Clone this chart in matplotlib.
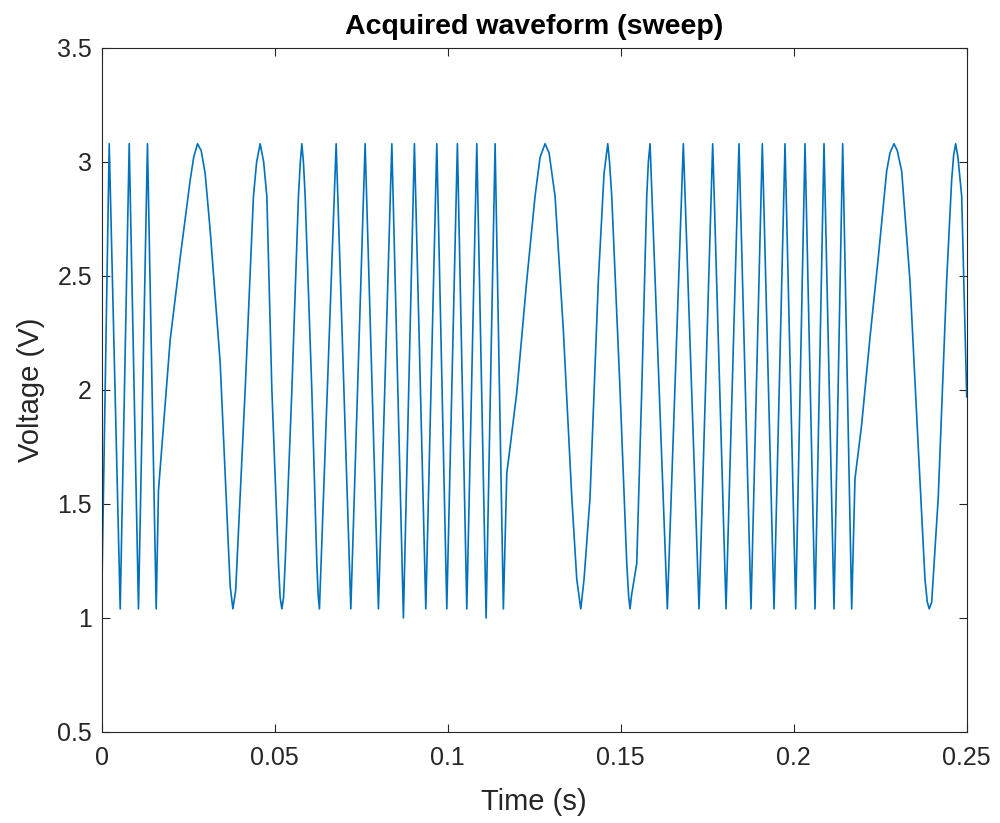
import matplotlib
matplotlib.use("Agg")
import matplotlib.pyplot as plt

# sweep waveform, points (time in s, voltage in V)
time_s = [
    0.0, 0.00217, 0.00535, 0.00795, 0.01063, 0.01323, 0.01575,
    # first slow cycle
    0.01641, 0.01979, 0.02268, 0.02557, 0.02658, 0.02768, 0.02875, 0.02990,
    0.03135, 0.03424, 0.03617, 0.03713, 0.03791, 0.03872,
    0.04146, 0.04386, 0.04478, 0.04580, 0.04681, 0.04773, 0.04918, 0.05108,
    0.05157, 0.05207, 0.05256, 0.05302, 0.05496, 0.05686, 0.05741, 0.05784,
    0.05830, 0.05880, 0.06073, 0.06218, 0.06256, 0.06293,
    # fast part
    0.06776, 0.07200, 0.07613, 0.07998, 0.08385, 0.08720, 0.09038, 0.09367,
    0.09685, 0.09974, 0.10280, 0.10552, 0.10841, 0.11110, 0.11370, 0.11609,
    # second slow cycle
    0.11708, 0.11803, 0.11997, 0.12285, 0.12525, 0.12669, 0.12814, 0.12929,
    0.13103, 0.13343, 0.13586, 0.13730, 0.13846, 0.13941, 0.14114, 0.14354,
    0.14519, 0.14626, 0.14677, 0.14741, 0.14981, 0.15175, 0.15227, 0.15270,
    0.15314, 0.15464, 0.15608, 0.15753, 0.15799, 0.15848,
    # fast part
    0.16348, 0.16810, 0.17264, 0.17659, 0.18044, 0.18419, 0.18766, 0.19093,
    0.19431, 0.19749, 0.20058, 0.20327, 0.20616, 0.20876, 0.21165, 0.21416, 0.21676,
    # third slow cycle
    0.21771, 0.21965, 0.22205, 0.22444, 0.22687, 0.22783, 0.22898, 0.22993,
    0.23121, 0.23360, 0.23600, 0.23794, 0.23861, 0.23918, 0.23988, 0.24178,
    0.24421, 0.24565, 0.24623, 0.24681, 0.24747, 0.24855, 0.25,
]
voltage_v = [
    1.08, 3.08, 1.04, 3.08, 1.04, 3.08, 1.04,
    1.56, 2.22, 2.58, 2.92, 3.02, 3.08, 3.05, 2.95,
    2.70, 2.12, 1.46, 1.14, 1.04, 1.12,
    2.00, 2.85, 3.00, 3.08, 3.00, 2.85, 2.00, 1.24,
    1.09, 1.04, 1.09, 1.24, 2.00, 2.85, 3.00, 3.08,
    3.00, 2.85, 2.00, 1.24, 1.10, 1.04,
    3.08, 1.04, 3.08, 1.04, 3.08, 1.00, 3.08, 1.04,
    3.08, 1.04, 3.08, 1.04, 3.08, 1.00, 3.08, 1.04,
    1.635, 1.75, 1.99, 2.48, 2.85, 3.02, 3.08, 3.04,
    2.85, 2.26, 1.53, 1.17, 1.04, 1.17, 1.53, 2.48,
    2.95, 3.08, 3.00, 2.85, 2.00, 1.24, 1.10, 1.04,
    1.10, 1.24, 2.00, 2.85, 3.00, 3.08,
    1.04, 3.08, 1.04, 3.08, 1.04, 3.08, 1.04, 3.08,
    1.04, 3.08, 1.04, 3.08, 1.04, 3.08, 1.04, 3.08, 1.04,
    1.61, 1.85, 2.23, 2.58, 2.96, 3.04, 3.08, 3.05,
    2.96, 2.48, 1.75, 1.17, 1.07, 1.04, 1.07, 1.53,
    2.48, 2.92, 3.03, 3.08, 3.02, 2.85, 1.97,
]

x_ticks = [0, 0.05, 0.1, 0.15, 0.2, 0.25]
x_tick_labels = ["0", "0.05", "0.1", "0.15", "0.2", "0.25"]
y_ticks = [0.5, 1, 1.5, 2, 2.5, 3, 3.5]
y_tick_labels = ["0.5", "1", "1.5", "2", "2.5", "3", "3.5"]

axis_color = "#262626"
plt.rcParams["font.family"] = ["Liberation Sans", "DejaVu Sans"]

fig = plt.figure(figsize=(10, 8.23), dpi=100)
ax = fig.add_axes([0.1017, 0.1106, 0.865, 0.8311])

ax.plot(time_s, voltage_v, color="#0072BD", linewidth=1.2)

ax.set_xlim(0, 0.25)
ax.set_ylim(0.5, 3.5)
ax.set_xticks(x_ticks)
ax.set_xticklabels(x_tick_labels)
ax.set_yticks(y_ticks)
ax.set_yticklabels(y_tick_labels)

ax.tick_params(direction="in", top=True, right=True, length=6, width=0.8,
               colors=axis_color, labelsize=18)
ax.tick_params(axis="x", pad=10)
ax.tick_params(axis="y", pad=7)
for side in ax.spines.values():
    side.set_color(axis_color)
    side.set_linewidth(0.8)

ax.set_title("Acquired waveform (sweep)", fontsize=20.5, fontweight="bold",
             color="black", pad=10)
ax.set_xlabel("Time (s)", fontsize=21, color=axis_color, labelpad=13)
ax.set_ylabel("Voltage (V)", fontsize=21, color=axis_color, labelpad=9)

fig.savefig("out.png", dpi=100)
